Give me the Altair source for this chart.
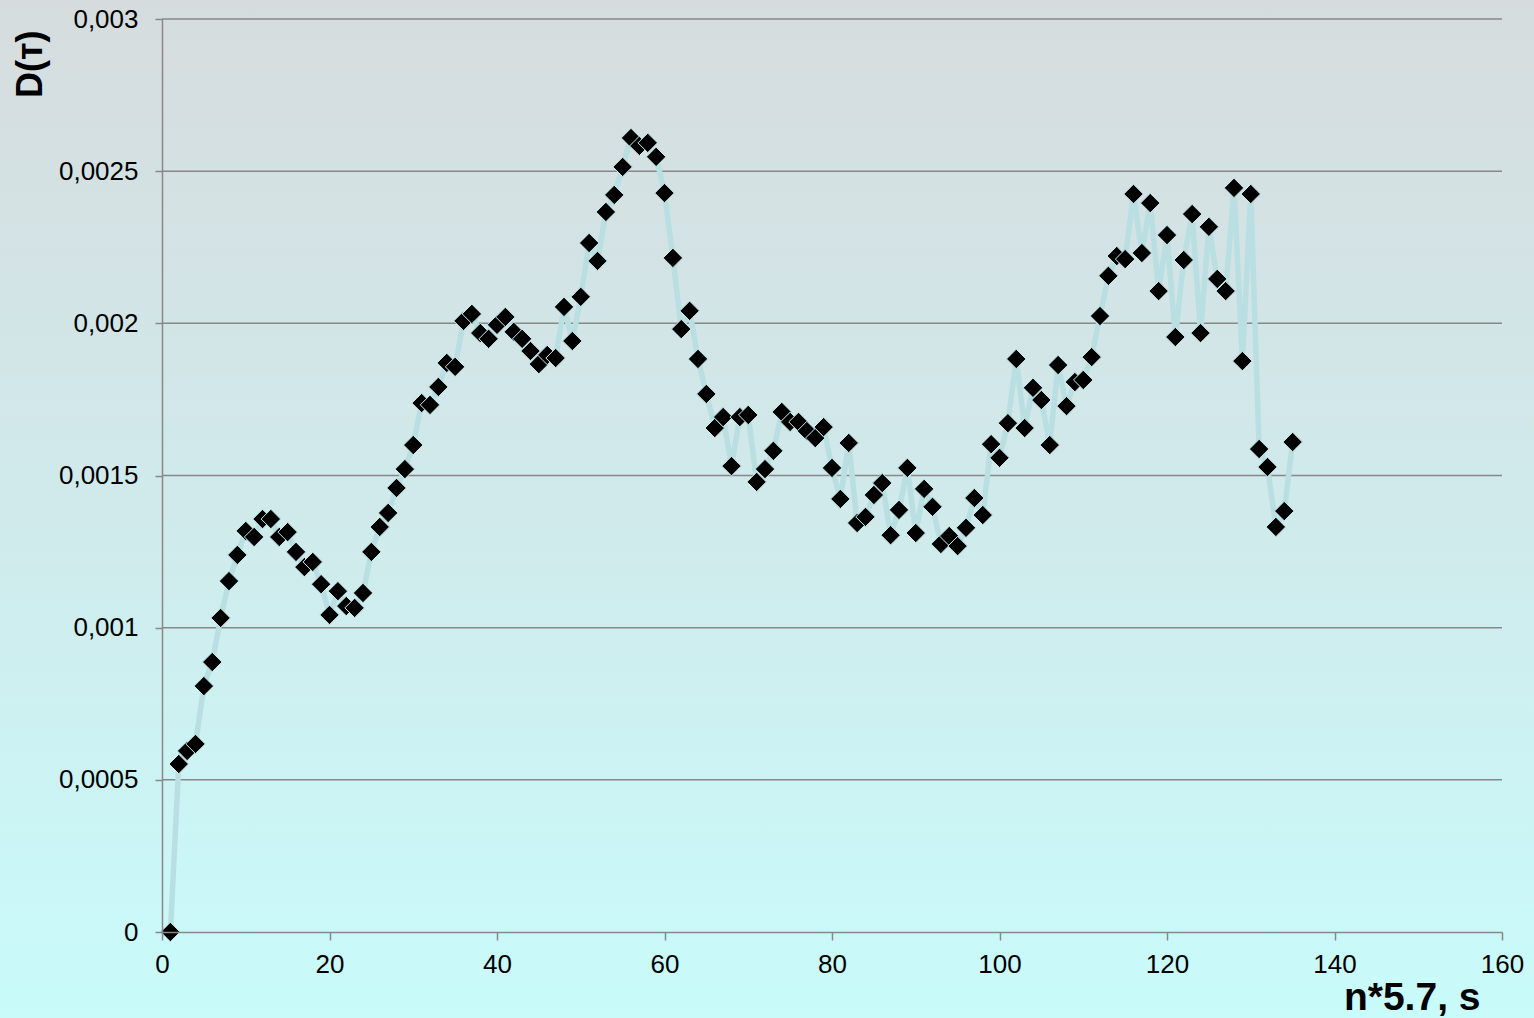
import altair as alt
import pandas as pd

# Measured D(τ) against the lag index n (time = n * 5.7 s)
n_index = list(range(1, 136))
d_values = [
    0.0, 0.000552, 0.000595, 0.000618, 0.000808, 0.000887, 0.001032, 0.001153, 0.001239, 0.001318,
    0.001298, 0.001357, 0.001357, 0.001298, 0.001314, 0.001249, 0.001199, 0.001216, 0.001143, 0.001042,
    0.001120, 0.001071, 0.001065, 0.001114, 0.001249, 0.001331, 0.001377, 0.001459, 0.001521, 0.001600,
    0.001738, 0.001732, 0.001791, 0.001870, 0.001857, 0.002008, 0.002031, 0.001968, 0.001949, 0.001995,
    0.002021, 0.001972, 0.001949, 0.001909, 0.001866, 0.001896, 0.001886, 0.002054, 0.001942, 0.002087,
    0.002264, 0.002205, 0.002366, 0.002422, 0.002514, 0.002609, 0.002583, 0.002593, 0.002547, 0.002428,
    0.002215, 0.001981, 0.002041, 0.001883, 0.001768, 0.001656, 0.001692, 0.001531, 0.001692, 0.001699,
    0.001479, 0.001521, 0.001581, 0.001709, 0.001676, 0.001676, 0.001646, 0.001623, 0.001659, 0.001525,
    0.001423, 0.001607, 0.001344, 0.001364, 0.001436, 0.001475, 0.001304, 0.001387, 0.001525, 0.001311,
    0.001456, 0.001397, 0.001275, 0.001301, 0.001268, 0.001328, 0.001426, 0.001370, 0.001603, 0.001558,
    0.001672, 0.001883, 0.001656, 0.001788, 0.001748, 0.001600, 0.001863, 0.001728, 0.001807, 0.001814,
    0.001889, 0.002024, 0.002156, 0.002221, 0.002211, 0.002425, 0.002231, 0.002395, 0.002106, 0.002290,
    0.001955, 0.002208, 0.002359, 0.001968, 0.002317, 0.002146, 0.002106, 0.002445, 0.001876, 0.002425,
    0.001587, 0.001528, 0.001331, 0.001383, 0.001610,
]

x_ticks = [0, 20, 40, 60, 80, 100, 120, 140, 160]
y_ticks = [0.0, 0.0005, 0.001, 0.0015, 0.002, 0.0025, 0.003]

df = pd.DataFrame({"n": n_index, "D": d_values})
grid_df = pd.DataFrame({"y": y_ticks[1:]})

W, H = 1340, 913
PAD = {"left": 162, "top": 19, "right": 32, "bottom": 86}
FONT = "Liberation Sans"

x_scale = alt.Scale(domain=[0, 160], nice=False, zero=True)
y_scale = alt.Scale(domain=[0, 0.003], nice=False, zero=True)

# Full-canvas gradient backdrop (grey-blue at the top to pale cyan at the bottom)
backdrop = alt.Chart(alt.Data(values=[{}])).mark_rect(
    fill=alt.Gradient(
        gradient="linear",
        stops=[
            alt.GradientStop(color="#d6dcde", offset=0),
            alt.GradientStop(color="#d0eaeb", offset=0.5),
            alt.GradientStop(color="#c9fbfb", offset=1),
        ],
        x1=0, x2=0, y1=0, y2=1,
    ),
    stroke=None,
).encode(
    x=alt.value(-PAD["left"]),
    x2=alt.value(W + PAD["right"]),
    y=alt.value(-PAD["top"]),
    y2=alt.value(H + PAD["bottom"]),
)

# Horizontal gridlines at the y tick values
grid = alt.Chart(grid_df).mark_rule(color="#888888", strokeWidth=1.5).encode(
    y=alt.Y("y:Q", scale=y_scale),
    x=alt.value(0),
    x2=alt.value(W),
)

x_axis = alt.Axis(
    values=x_ticks,
    grid=False,
    zindex=1,
    domainColor="#888888",
    domainWidth=1.5,
    tickColor="#888888",
    tickWidth=1.5,
    tickSize=8,
    labelFont=FONT,
    labelFontSize=26,
    labelColor="#000000",
    labelPadding=11,
    labelFlush=False,
    title="n*5.7, s",
    titleFont=FONT,
    titleFontSize=39,
    titleFontWeight="bold",
    titleColor="#000000",
    titleAlign="right",
    titleBaseline="alphabetic",
    titleX=1318,
    titleY=77,
)

y_axis = alt.Axis(
    values=y_ticks,
    grid=False,
    zindex=1,
    domainColor="#888888",
    domainWidth=1.5,
    tickColor="#888888",
    tickWidth=1.5,
    tickSize=7,
    labelFont=FONT,
    labelFontSize=26,
    labelColor="#000000",
    labelPadding=17,
    labelFlush=False,
    labelExpr="replace(format(datum.value, '~g'), '.', ',')",
    title="D(т)",
    titleFont=FONT,
    titleFontSize=36,
    titleFontWeight="bold",
    titleColor="#000000",
    titleAngle=270,
    titleAlign="right",
    titleBaseline="middle",
    titleX=-132,
    titleY=11,
)

base = alt.Chart(df).encode(
    x=alt.X("n:Q", scale=x_scale, axis=x_axis),
    y=alt.Y("D:Q", scale=y_scale, axis=y_axis),
)

line = base.mark_line(color="#b9dfe2", strokeWidth=5.5)
points = base.mark_point(
    shape="diamond", filled=True, size=380, fill="#000000",
    stroke="#c4eef0", strokeWidth=1, opacity=1,
)

chart = alt.layer(backdrop, grid, line, points).properties(
    width=W,
    height=H,
    autosize=alt.AutoSizeParams(type="none"),
    padding=PAD,
).configure_view(stroke=None).configure(background="#cfeeee")

chart.save("out.html", embed_options={"renderer": "svg", "actions": False})
